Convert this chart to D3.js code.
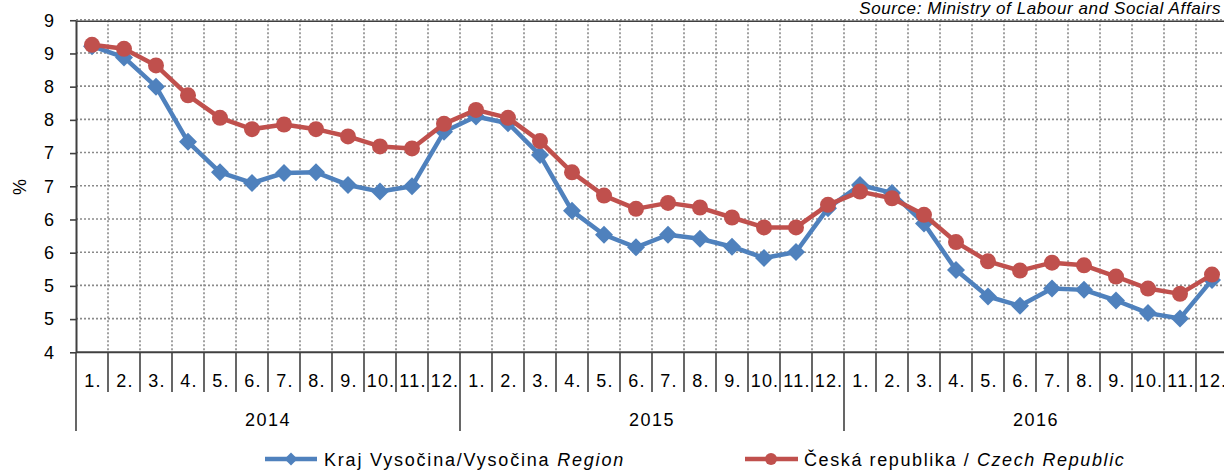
<!DOCTYPE html>
<html>
<head>
<meta charset="utf-8">
<script src="https://cdn.jsdelivr.net/npm/d3@7"></script>
<style>
  body { margin: 0; background: #fff; }
  svg { display: block; font-family: "Liberation Sans", Arial, sans-serif; }
</style>
</head>
<body>
<svg id="chart" width="1224" height="470"></svg>
<script>
var years = ["2014", "2015", "2016"];
var months = ["1.", "2.", "3.", "4.", "5.", "6.", "7.", "8.", "9.", "10.", "11.", "12."];

// Kraj Vysočina, monthly values 2014-2016
var vysocina = [
  8.61, 8.44, 8.0, 7.17, 6.71, 6.55, 6.70, 6.71, 6.52, 6.42, 6.50, 7.32,
  7.55, 7.45, 6.97, 6.13, 5.77, 5.58, 5.77, 5.71, 5.59, 5.42, 5.51, 6.17,
  6.52, 6.40, 5.94, 5.24, 4.84, 4.70, 4.96, 4.94, 4.78, 4.59, 4.51, 5.09
];
// Česká republika
var czech = [
  8.63, 8.57, 8.32, 7.87, 7.53, 7.36, 7.43, 7.36, 7.25, 7.10, 7.07, 7.44,
  7.65, 7.53, 7.18, 6.71, 6.36, 6.16, 6.25, 6.18, 6.03, 5.88, 5.88, 6.22,
  6.42, 6.32, 6.07, 5.66, 5.37, 5.23, 5.35, 5.31, 5.14, 4.96, 4.88, 5.17
];
var yTicks = [4, 4.5, 5, 5.5, 6, 6.5, 7, 7.5, 8, 8.5, 9];

var blue = "#4f81bd", red = "#c0504d", axisCol = "#404040", gridCol = "#8a8a8a";

var svg = d3.select("#chart");
var pLeft = 76, pRight = 1228, pTop = 20.25, pBottom = 352.3;

var cats = [];
years.forEach(function (y) {
  months.forEach(function (m) { cats.push(y + "-" + m); });
});

var x = d3.scaleBand().domain(cats).range([pLeft, pRight]);
var y = d3.scaleLinear().domain([4, 9]).range([pBottom, pTop]);
var cx = function (d, i) { return x(cats[i]) + x.bandwidth() / 2; };

// grid
var grid = svg.append("g");
grid.selectAll("line.h").data(yTicks.slice(1)).join("line")
  .attr("x1", pLeft).attr("x2", pRight)
  .attr("y1", function (d) { return y(d) - 0.5; })
  .attr("y2", function (d) { return y(d) - 0.5; })
  .attr("stroke", gridCol).attr("stroke-width", 1.6)
  .attr("stroke-dasharray", "2,2");
grid.selectAll("line.v").data(cats.slice(1)).join("line")
  .attr("x1", function (d) { return x(d); }).attr("x2", function (d) { return x(d); })
  .attr("y1", pTop).attr("y2", pBottom)
  .attr("stroke", gridCol).attr("stroke-width", 1.6)
  .attr("stroke-dasharray", "2,2");

// top border
svg.append("line")
  .attr("x1", pLeft).attr("x2", pRight).attr("y1", pTop + 1).attr("y2", pTop + 1)
  .attr("stroke", axisCol).attr("stroke-width", 1.6);

// y axis
var yAxis = d3.axisLeft(y).tickValues(yTicks).tickSize(6).tickSizeOuter(0)
  .tickFormat(d3.format(".0f")).tickPadding(16);
var gy = svg.append("g").attr("transform", "translate(" + pLeft + ",0)").call(yAxis);
gy.select(".domain").attr("stroke", axisCol).attr("stroke-width", 2);
gy.selectAll(".tick line").attr("stroke", axisCol).attr("stroke-width", 1.6);
gy.selectAll(".tick text").attr("font-size", 18).attr("fill", "#000")
  .attr("font-family", "Liberation Sans, Arial, sans-serif");

svg.append("text")
  .attr("transform", "translate(26,187) rotate(-90)")
  .attr("text-anchor", "middle").attr("font-size", 18).text("%");

// x axis: baseline, month separators, year separators
svg.append("line")
  .attr("x1", pLeft).attr("x2", pRight).attr("y1", pBottom).attr("y2", pBottom)
  .attr("stroke", axisCol).attr("stroke-width", 2);
svg.append("line")
  .attr("x1", pLeft).attr("x2", pLeft).attr("y1", pBottom).attr("y2", 431)
  .attr("stroke", axisCol).attr("stroke-width", 1.6);

var bounds = d3.range(1, cats.length + 1);
svg.append("g").selectAll("line").data(bounds).join("line")
  .attr("x1", function (i) { return pLeft + i * x.step(); })
  .attr("x2", function (i) { return pLeft + i * x.step(); })
  .attr("y1", pBottom)
  .attr("y2", function (i) { return i % 12 === 0 ? 431 : 392; })
  .attr("stroke", axisCol).attr("stroke-width", 1.6);

svg.append("g").selectAll("text").data(cats).join("text")
  .attr("x", function (d, i) { return cx(d, i) + 1; })
  .attr("y", 387)
  .attr("text-anchor", "middle")
  .attr("font-size", 18).attr("letter-spacing", 1.2)
  .text(function (d) { return d.split("-")[1]; });

svg.append("g").selectAll("text").data(years).join("text")
  .attr("x", function (d, i) { return pLeft + (i * 12 + 6) * x.step(); })
  .attr("y", 426)
  .attr("text-anchor", "middle")
  .attr("font-size", 18).attr("letter-spacing", 1.5)
  .text(function (d) { return d; });

// series
var line = d3.line().x(cx).y(function (d) { return y(d); });
var diamond = function (s) { return "M0," + -s + "L" + s + ",0L0," + s + "L" + -s + ",0Z"; };

svg.append("path").datum(vysocina)
  .attr("d", line).attr("fill", "none")
  .attr("stroke", blue).attr("stroke-width", 4.5).attr("stroke-linejoin", "round");
svg.append("g").selectAll("path").data(vysocina).join("path")
  .attr("transform", function (d, i) { return "translate(" + cx(d, i) + "," + y(d) + ")"; })
  .attr("d", diamond(9)).attr("fill", blue);

svg.append("path").datum(czech)
  .attr("d", line).attr("fill", "none")
  .attr("stroke", red).attr("stroke-width", 4.5).attr("stroke-linejoin", "round");
svg.append("g").selectAll("circle").data(czech).join("circle")
  .attr("cx", cx).attr("cy", function (d) { return y(d); })
  .attr("r", 8).attr("fill", red);

// source
svg.append("text")
  .attr("x", 1221).attr("y", 14).attr("text-anchor", "end")
  .attr("font-size", 17).attr("font-style", "italic").attr("letter-spacing", 0.6)
  .text("Source: Ministry of Labour and Social Affairs");

// legend
var lg = svg.append("g");
lg.append("line").attr("x1", 265).attr("x2", 317).attr("y1", 459).attr("y2", 459)
  .attr("stroke", blue).attr("stroke-width", 4.5);
lg.append("path").attr("transform", "translate(291,459)").attr("d", diamond(6.5)).attr("fill", blue);
var t1 = lg.append("text").attr("x", 324).attr("y", 466).attr("font-size", 18).attr("letter-spacing", 1.8);
t1.append("tspan").text("Kraj Vysočina/Vysočina ");
t1.append("tspan").attr("font-style", "italic").text("Region");

lg.append("line").attr("x1", 745).attr("x2", 798).attr("y1", 459).attr("y2", 459)
  .attr("stroke", red).attr("stroke-width", 4.5);
lg.append("circle").attr("cx", 771).attr("cy", 459).attr("r", 6).attr("fill", red);
var t2 = lg.append("text").attr("x", 804).attr("y", 466).attr("font-size", 18).attr("letter-spacing", 1.6);
t2.append("tspan").text("Česká republika / ");
t2.append("tspan").attr("font-style", "italic").text("Czech Republic");
</script>
</body>
</html>
